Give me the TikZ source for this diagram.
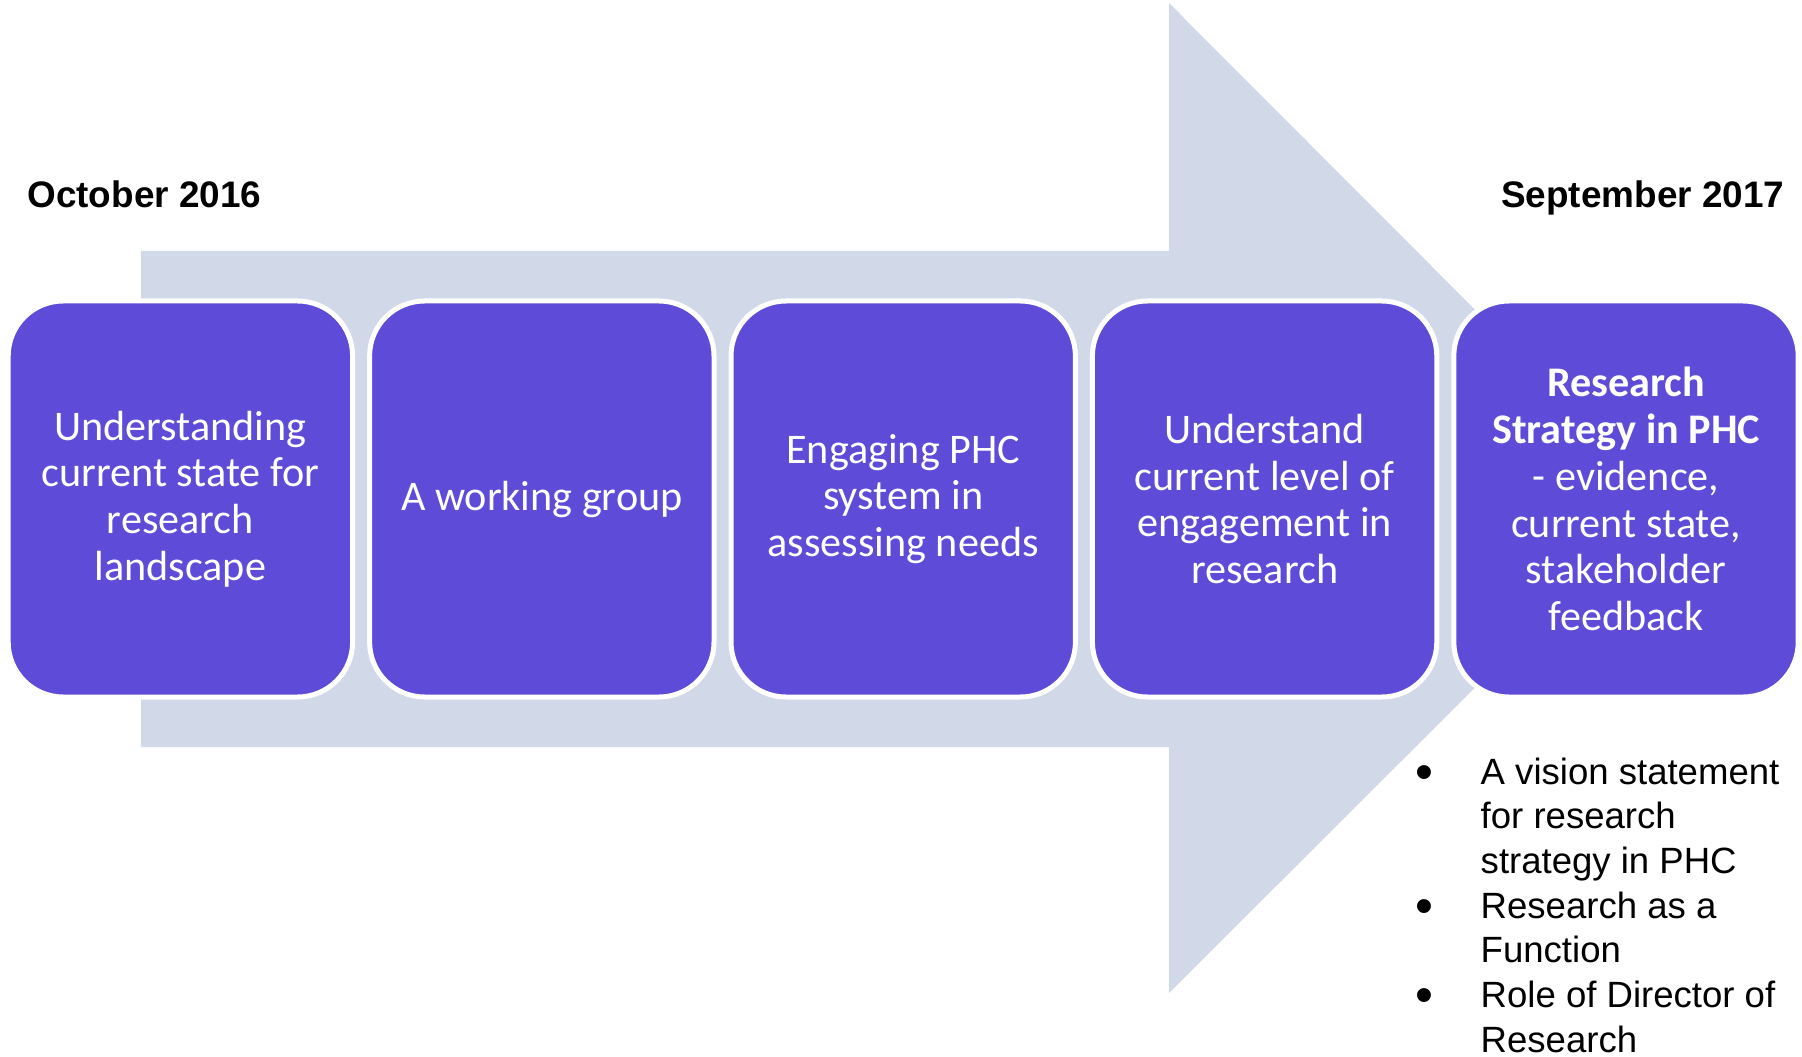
\documentclass[tikz,border=0pt]{standalone}
\usepackage{fontspec}
\usepackage{graphicx}
\setmainfont{Carlito}
\newfontfamily\arialfont{Liberation Sans}
\definecolor{arrowgray}{RGB}{209,216,232}
\definecolor{stagepurple}{RGB}{94,75,215}
\newcommand{\bigbullet}{\raisebox{-0.05cm}{\scalebox{1.4}{\textbullet}}}

\begin{document}
\begin{tikzpicture}[
  stage/.style={rectangle, rounded corners=0.55cm, fill=stagepurple, draw=white, line width=0.05cm,
    minimum width=3.444cm, minimum height=3.96cm, inner sep=0pt, align=center, text=white,
    font=\fontsize{12}{13.3}\selectfont},
  date/.style={font=\arialfont\bfseries\fontsize{10.5}{12.6}\selectfont, inner sep=0pt},
  outcome/.style={font=\arialfont\fontsize{10.4}{12.72}\selectfont, inner sep=0pt}]
  \useasboundingbox (0,0) rectangle (18.02,10.56);
  \fill [arrowgray] (1.41,3.09) -- (1.41,8.05) -- (11.69,8.05) -- (11.69,10.53)
    -- (16.64,5.57) -- (11.69,0.63) -- (11.69,3.09) -- cycle;
  \foreach \txt [count=\i] in {{Understanding\\current state for\\research\\landscape},
      {A working group},
      {Engaging PHC\\system in\\assessing needs},
      {Understand\\current level of\\engagement in\\research},
      {\textbf{Research}\\\textbf{Strategy in PHC}\\- evidence,\\current state,\\stakeholder\\feedback}}
    \node [stage] (s\i) at ({1.804+3.614*(\i-1)},5.57) {\txt};
  \node [date, anchor=base west] (start) at (0.267,8.48) {October 2016};
  \node [date, anchor=base east] (finish) at (17.85,8.48) {September 2017};
  \node [outcome, anchor=base west] (outcomes) at (14.15,2.72) {%
    \begin{tabular}[t]{@{}p{0.65cm}@{}l@{}}
      \bigbullet & A vision statement\\
                 & for research\\
                 & strategy in PHC\\
      \bigbullet & Research as a\\
                 & Function\\
      \bigbullet & Role of Director of\\
                 & Research
    \end{tabular}};
\end{tikzpicture}
\end{document}
